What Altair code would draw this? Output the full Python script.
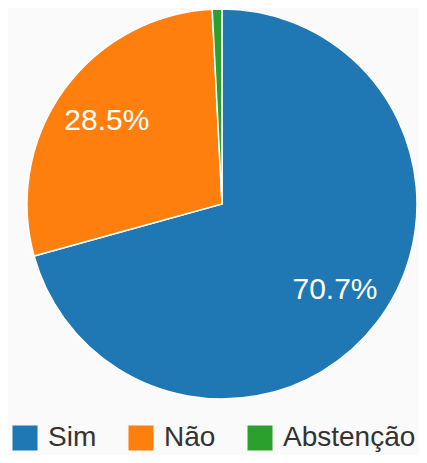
import altair as alt
import pandas as pd

categories = ["Sim", "Não", "Abstenção"]
values = [70.7, 28.5, 0.8]
labels = ["70.7%", "28.5%", ""]
order = [0, 1, 2]
colors = ["#1f77b4", "#ff7f0e", "#2ca02c"]

df = pd.DataFrame({"cat": categories, "val": values, "label": labels, "ord": order})

FONT = "Arial, Liberation Sans, sans-serif"

base = alt.Chart(df).encode(
    theta=alt.Theta("val:Q", stack=True),
    order=alt.Order("ord:Q"),
)

arcs = base.mark_arc(outerRadius=195, stroke="#ffffff", strokeWidth=1.5).encode(
    x=alt.value(214),
    y=alt.value(196),
    color=alt.Color(
        "cat:N",
        scale=alt.Scale(domain=categories, range=colors),
        legend=alt.Legend(
            title=None,
            orient="none",
            direction="horizontal",
            legendX=3,
            legendY=416,
            symbolType="square",
            symbolSize=625,
            symbolStrokeWidth=0,
            symbolOpacity=1,
            labelFontSize=28,
            labelFont=FONT,
            labelColor="#333333",
            labelOffset=9,
            columnPadding=30,
        ),
    ),
)

text = base.mark_text(radius=142, fontSize=30, font=FONT, color="#ffffff").encode(
    x=alt.value(214),
    y=alt.value(196),
    text="label:N",
)

chart = (
    alt.layer(arcs, text)
    .properties(
        width=411,
        height=447,
        padding=0,
        background="#fafafa",
        autosize=alt.AutoSizeParams(type="none"),
    )
    .configure_view(stroke=None)
)

chart.save("out.html", embed_options={"renderer": "svg", "actions": False})
